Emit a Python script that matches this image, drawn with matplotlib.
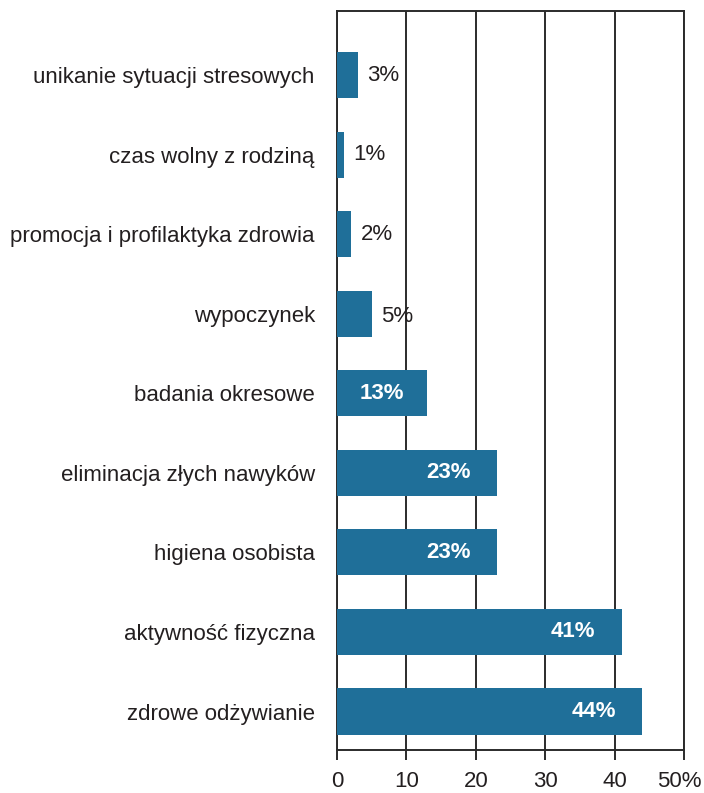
import matplotlib.pyplot as plt
from matplotlib.transforms import ScaledTranslation

plt.rcParams['font.family'] = ['Liberation Sans', 'DejaVu Sans']

categories = ['zdrowe odżywianie', 'aktywność fizyczna', 'higiena osobista',
              'eliminacja złych nawyków', 'badania okresowe', 'wypoczynek',
              'promocja i profilaktyka zdrowia', 'czas wolny z rodziną',
              'unikanie sytuacji stresowych']
values = [44, 41, 23, 23, 13, 5, 2, 1, 3]
xticks = [0, 10, 20, 30, 40, 50]
xtick_labels = ['0', '10', '20', '30', '40', '50%']

bar_color = '#1f6f99'
text_color = '#231f20'
line_color = '#2b2b2b'
fs = 16

fig = plt.figure(figsize=(7.04, 7.93), dpi=100)
ax = fig.add_axes([0.4787, 0.0542, 0.4929, 0.9319])

ypos = list(range(len(categories)))
ax.barh(ypos, values, height=0.58, color=bar_color, zorder=3)

for y, v in zip(ypos, values):
    if v >= 20:
        # bigger bars: label sits inside, towards the end
        ax.text(v - 7.0, y, f'{v}%', ha='center', va='center', color='white',
                fontsize=fs, fontweight='bold', zorder=4)
    elif v >= 10:
        ax.text(v / 2, y, f'{v}%', ha='center', va='center', color='white',
                fontsize=fs, fontweight='bold', zorder=4)
    else:
        dy = -0.03 if v == 5 else 0
        ax.text(v + 1.4, y + dy, f'{v}%', ha='left', va='center', color=text_color,
                fontsize=fs, zorder=4)

ax.set_xlim(0, 50)
ax.set_ylim(-0.484, 8.805)
ax.set_yticks(ypos)
ax.set_yticklabels(categories, fontsize=fs, color=text_color)
ax.set_xticks(xticks)
ax.set_xticklabels(xtick_labels, fontsize=fs, color=text_color)
ax.tick_params(axis='y', length=0, pad=16)
ax.tick_params(axis='x', direction='out', length=7, width=1.4, color=line_color, pad=8)

# last label sits a bit left of its tick, as in the original
last = ax.get_xticklabels()[-1]
last.set_transform(last.get_transform() + ScaledTranslation(-5 / 100, 0, fig.dpi_scale_trans))

ax.grid(True, axis='x', color=line_color, linewidth=1.4, zorder=1)
for s in ax.spines.values():
    s.set_color(line_color)
    s.set_linewidth(1.4)

fig.savefig('out.png', dpi=100)
